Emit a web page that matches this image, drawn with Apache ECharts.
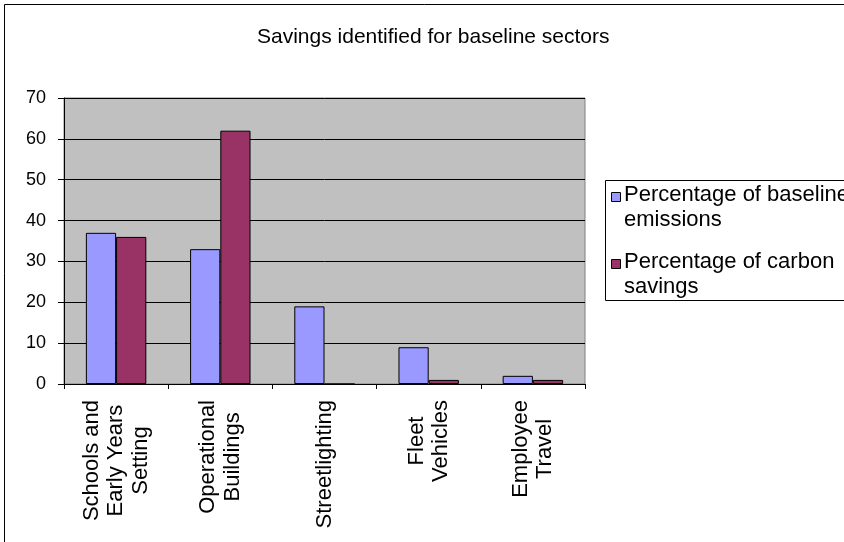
<!DOCTYPE html>
<html>
<head>
<meta charset="utf-8">
<script src="https://cdn.jsdelivr.net/npm/echarts@6/dist/echarts.min.js"></script>
<style>
  html, body { margin: 0; padding: 0; background: #fff; }
  #chart { width: 844px; height: 542px; }
</style>
</head>
<body>
<div id="chart"></div>
<script>
// Sector savings data
var chartTitle = 'Savings identified for baseline sectors';
var categories = [
  'Schools and\nEarly Years\nSetting',
  'Operational\nBuildings',
  'Streetlighting',
  'Fleet\nVehicles',
  'Employee\nTravel'
];
var seriesNames = ['Percentage of baseline emissions', 'Percentage of carbon savings'];
var legendLines = [['Percentage of baseline', 'emissions'], ['Percentage of carbon', 'savings']];
var baselineEmissions = [37, 33, 19, 9, 2];
var carbonSavings = [36, 62, 0, 1, 1];
var yTicks = { min: 0, max: 70, interval: 10 };

var FONT = '"Liberation Sans", Arial, sans-serif';
var colors = ['#9999FF', '#993366'];

var chart = echarts.init(document.getElementById('chart'), null, { renderer: 'canvas' });

// Legend drawn as a framed box, icon aligned with the first text line
var legendChildren = [{
  type: 'rect',
  shape: { x: 605.5, y: 180.5, width: 300, height: 120 },
  style: { fill: '#fff', stroke: '#000', lineWidth: 1 }
}];
var itemTops = [183, 250];
legendLines.forEach(function (lines, i) {
  legendChildren.push({
    type: 'rect',
    shape: { x: 611.5, y: itemTops[i] + 9.5, width: 9, height: 9 },
    style: { fill: colors[i], stroke: '#000', lineWidth: 1 }
  });
  legendChildren.push({
    type: 'text',
    x: 624, y: itemTops[i],
    style: {
      text: lines.join('\n'),
      font: '22px ' + FONT,
      lineHeight: 24.5,
      fill: '#000',
      verticalAlign: 'top'
    }
  });
});

var option = {
  backgroundColor: '#fff',
  animation: false,
  title: {
    text: chartTitle,
    left: 252,
    top: 22,
    textStyle: { fontFamily: FONT, fontSize: 21, fontWeight: 'normal', color: '#000' }
  },
  grid: {
    left: 64, right: 259, top: 98, bottom: 158,
    show: true,
    backgroundColor: '#C0C0C0',
    borderColor: '#808080',
    borderWidth: 1
  },
  xAxis: {
    type: 'category',
    data: categories,
    axisLine: { show: true, lineStyle: { color: '#000', width: 1 } },
    axisTick: { show: true, alignWithLabel: false, length: 5, lineStyle: { color: '#000' } },
    axisLabel: {
      interval: 0,
      rotate: 90,
      margin: 16,
      color: '#000',
      formatter: function (v) {
        return v.split('\n').map(function (s) { return '{c|' + s + '}'; }).join('\n');
      },
      rich: {
        c: { align: 'center', fontFamily: FONT, fontSize: 22, lineHeight: 24.5, color: '#000' }
      }
    },
    splitLine: { show: false }
  },
  yAxis: {
    type: 'value',
    min: yTicks.min,
    max: yTicks.max,
    interval: yTicks.interval,
    axisLine: { show: true, lineStyle: { color: '#000', width: 1 } },
    axisTick: { show: true, length: 6, lineStyle: { color: '#000' } },
    axisLabel: { margin: 18, color: '#000', fontFamily: FONT, fontSize: 18 },
    splitLine: { show: true, lineStyle: { color: '#000', width: 1 } }
  },
  series: [
    {
      name: seriesNames[0],
      type: 'bar',
      data: baselineEmissions,
      barGap: '0%',
      barCategoryGap: '42%',
      itemStyle: { color: colors[0], borderColor: '#000', borderWidth: 1 }
    },
    {
      name: seriesNames[1],
      type: 'bar',
      data: carbonSavings,
      barGap: '0%',
      barCategoryGap: '42%',
      itemStyle: { color: colors[1], borderColor: '#000', borderWidth: 1 }
    }
  ],
  graphic: [
    {
      type: 'rect',
      shape: { x: 4.5, y: 4.5, width: 900, height: 600 },
      style: { fill: 'none', stroke: '#000', lineWidth: 1 },
      silent: true,
      z: 100
    },
    { type: 'group', children: legendChildren }
  ]
};

chart.setOption(option);
</script>
</body>
</html>
